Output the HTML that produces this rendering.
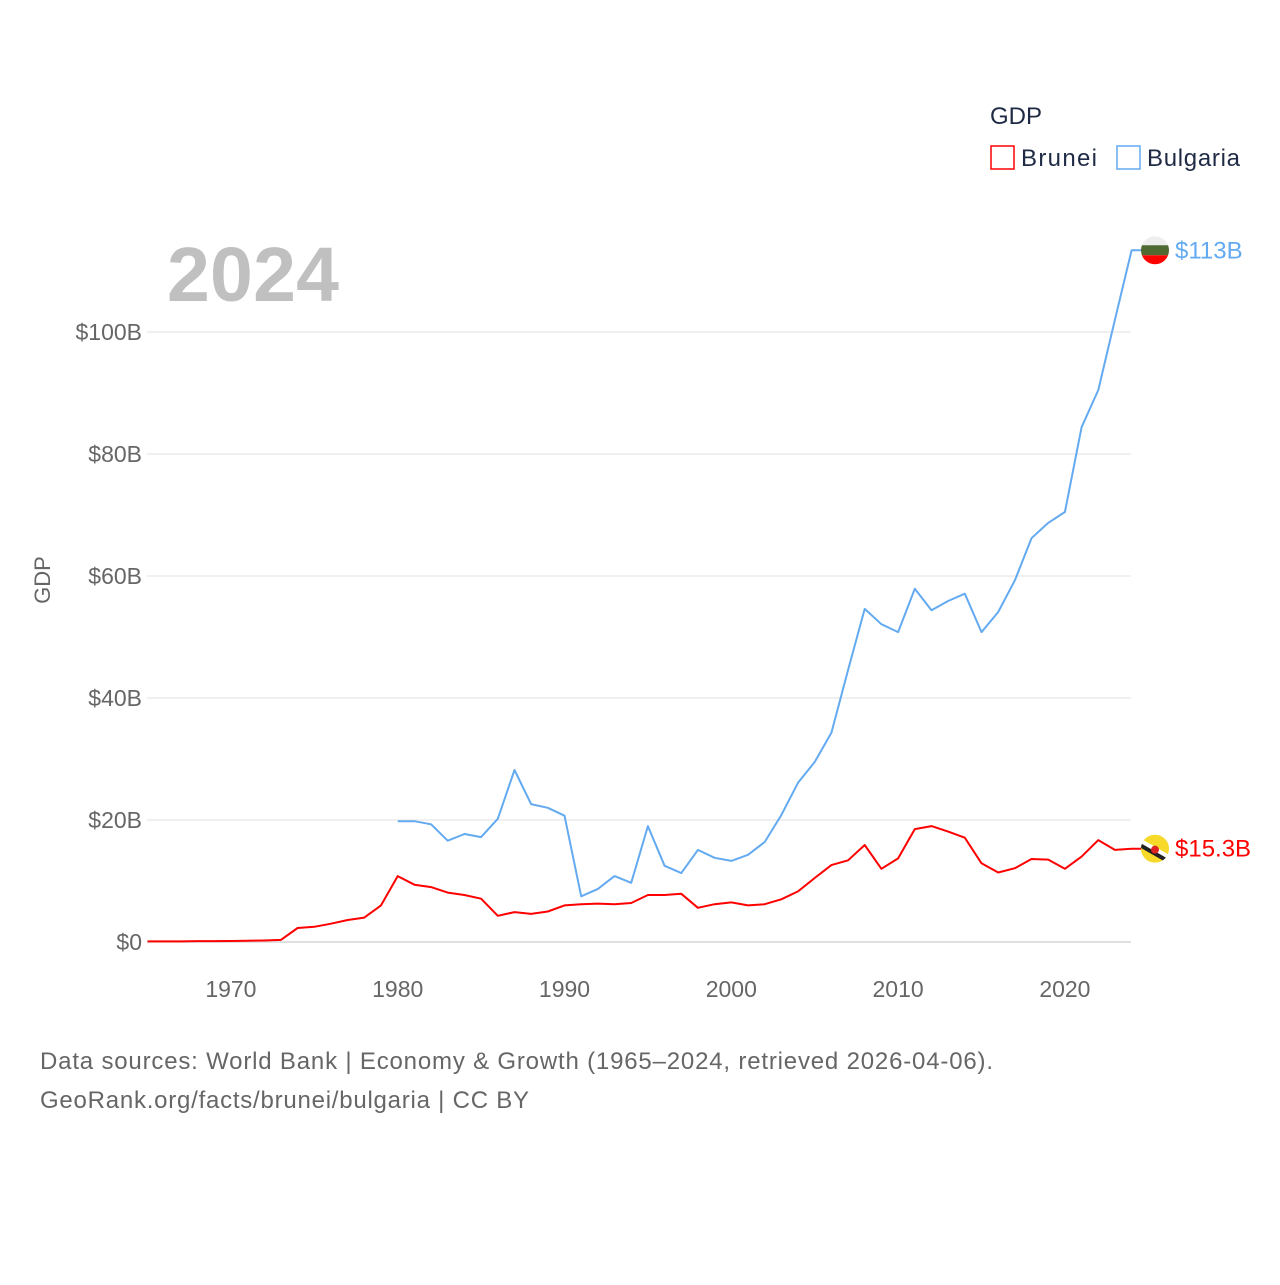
<!DOCTYPE html>
<html><head><meta charset="utf-8"><style>
body{margin:0;background:#fff;}
svg text{font-family:"Liberation Sans",sans-serif;}
</style></head><body>
<svg width="1280" height="1280" xmlns="http://www.w3.org/2000/svg" id="chart">
<text x="990" y="124" font-size="24" fill="#1f2a44">GDP</text>
<g><rect x="991" y="146" width="23" height="23" fill="none" stroke="#ff0000" stroke-width="1.5"/><text x="1021" y="166" font-size="24" fill="#1f2a44" textLength="76">Brunei</text></g>
<g><rect x="1117" y="146" width="23" height="23" fill="none" stroke="#63aaf0" stroke-width="1.5"/><text x="1147" y="166" font-size="24" fill="#1f2a44" textLength="93">Bulgaria</text></g>
<text x="167" y="301" font-size="77" font-weight="bold" fill="#c0c0c0" textLength="172">2024</text>
<g id="grid"></g><g id="yticks"></g><g id="xticks"></g><g id="lines"></g>
<text transform="translate(50,580) rotate(-90)" text-anchor="middle" font-size="22" fill="#666">GDP</text>
<text x="40" y="1069" font-size="24" fill="#666" textLength="953">Data sources: World Bank | Economy &amp; Growth (1965–2024, retrieved 2026-04-06).</text>
<text x="40" y="1108" font-size="24" fill="#666" textLength="489">GeoRank.org/facts/brunei/bulgaria | CC BY</text>
</svg>
<script>
const yTicks=[0,20,40,60,80,100];
const yTickLabels=["$0","$20B","$40B","$60B","$80B","$100B"];
const xTicks=[1970,1980,1990,2000,2010,2020];
const bruneiStart=1965;
const bruneiValues=[0.1,0.1,0.1,0.15,0.15,0.17,0.2,0.25,0.35,2.3,2.5,3.0,3.6,4.0,6.0,10.8,9.4,9.0,8.1,7.7,7.1,4.3,4.9,4.6,5.0,6.0,6.2,6.3,6.2,6.4,7.7,7.7,7.9,5.6,6.2,6.5,6.0,6.2,7.0,8.3,10.5,12.6,13.4,15.9,12.0,13.7,18.5,19.0,18.1,17.1,12.9,11.4,12.1,13.6,13.5,12.0,14.0,16.7,15.1,15.3];
const bulgariaStart=1980;
const bulgariaValues=[19.8,19.8,19.3,16.6,17.7,17.2,20.2,28.2,22.6,22.0,20.7,7.5,8.7,10.8,9.7,19.0,12.5,11.3,15.1,13.8,13.3,14.3,16.4,20.8,26.1,29.5,34.3,44.6,54.6,52.1,50.8,57.9,54.4,55.9,57.1,50.8,54.1,59.3,66.2,68.7,70.5,84.4,90.5,102,113.4];
const NS="http://www.w3.org/2000/svg";
const X=y=>147.5+(y-1965)*16.68;
const Y=v=>942-v*6.1;
function mk(t,a,p){const e=document.createElementNS(NS,t);for(const k in a)e.setAttribute(k,a[k]);p.appendChild(e);return e;}
const grid=document.getElementById('grid'),yt=document.getElementById('yticks'),xt=document.getElementById('xticks'),ln=document.getElementById('lines');
yTicks.forEach((v,i)=>{
 const l=mk('line',{x1:147,x2:1131,y1:Y(v),y2:Y(v),stroke:v===0?'#e0e0e0':'#ebebeb','stroke-width':v===0?2:1.5},grid);
 
 
 const t=mk('text',{x:142,y:Y(v)+8,'text-anchor':'end','font-size':23,fill:'#666'},yt);t.textContent=yTickLabels[i];
 
 
});
xTicks.forEach(v=>{
 const t=mk('text',{x:X(v),y:997,'text-anchor':'middle','font-size':23,fill:'#666'},xt);t.textContent=v;
 
 
});
function series(vals,start,color,name,label,flag){
 const pts=vals.map((v,i)=>X(start+i).toFixed(1)+','+Y(v).toFixed(1));
 const last=vals[vals.length-1];
 pts.push((X(2024)+10)+','+Y(last).toFixed(1));
 const p=mk('polyline',{points:pts.join(' '),fill:'none',stroke:color,'stroke-width':2,'stroke-linejoin':'round'},ln);
 
 
 const cy=Y(last),cx=1155;
 const g=mk('g',{},ln);
 
 
 mk('clipPath',{id:'c'+name},g).appendChild(document.createElementNS(NS,'circle')).setAttribute('r',14);
 g.querySelector('clipPath circle').setAttribute('cx',cx);g.querySelector('clipPath circle').setAttribute('cy',cy);
 const cg=mk('g',{'clip-path':'url(#c'+name+')'},g);
 flag(cg,cx,cy);
 const t=mk('text',{x:1175,y:cy+8,'font-size':24,fill:color},ln);t.textContent=label;
 
 
}
series(bruneiValues,bruneiStart,'#ff0000','brunei','$15.3B',(g,cx,cy)=>{
 mk('rect',{x:cx-14,y:cy-14,width:28,height:28,fill:'#f7d92a'},g);
 mk('line',{x1:cx-14,y1:cy-7,x2:cx+14,y2:cy+9,stroke:'#fff','stroke-width':5},g);
 mk('line',{x1:cx-14,y1:cy-3,x2:cx+14,y2:cy+13,stroke:'#222','stroke-width':4},g);
 mk('circle',{cx:cx,cy:cy+1,r:4,fill:'#d22'},g);
});
series(bulgariaValues,bulgariaStart,'#63aaf0','bulgaria','$113B',(g,cx,cy)=>{
 mk('rect',{x:cx-14,y:cy-14,width:28,height:10,fill:'#eee'},g);
 mk('rect',{x:cx-14,y:cy-5,width:28,height:10,fill:'#4f6b32'},g);
 mk('rect',{x:cx-14,y:cy+5,width:28,height:10,fill:'#f00'},g);
});
</script>
</body></html>
